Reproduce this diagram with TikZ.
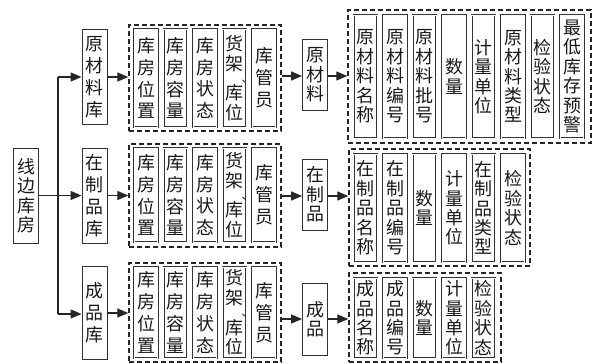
\documentclass[tikz,border=0pt]{standalone}
\usepackage{fontspec}
\newfontfamily\cjk{Noto Sans CJK SC}
\usetikzlibrary{arrows.meta,calc}
\newcommand{\dunhao}{\makebox[0pt][l]{\hspace{7bp}\fontsize{11}{11}\selectfont 、}}
\begin{document}
\begin{tikzpicture}[x=1bp,y=-1bp,
  every node/.style={inner sep=0pt, align=center, text=black!90, font=\cjk\fontsize{18}{19.5}\selectfont},
  sbox/.style={draw=black!80, line width=0.9pt, minimum width=25bp},
  dbox/.style={draw=black!80, double=white, double distance=0.9pt, line width=0.7pt, minimum width=23.5bp},
  wide/.style={font=\cjk\fontsize{18}{22}\selectfont},
  tight/.style={font=\cjk\fontsize{18}{20}\selectfont},
  dashbox/.style={draw=black!85, line width=1.4pt, dash pattern=on 5bp off 3bp},
  arr/.style={draw=black!85, line width=1.2pt, -{Triangle[length=11bp,width=9bp]}},
  ln/.style={draw=black!85, line width=1.2pt}]
\useasboundingbox (0,0) rectangle (595,363);
\fill[white] (0,0) rectangle (595,363);

% left column
\node[sbox, minimum height=95bp] (xb) at (26,195.5) {线\\边\\库\\房};
\node[sbox, minimum height=95bp, wide] (k1) at (94.5,77) {原\\材\\料\\库};
\node[sbox, minimum height=95bp, wide] (k2) at (94.5,195.5) {在\\制\\品\\库};
\node[sbox, minimum height=93bp, wide] (k3) at (94.5,313) {成\\品\\库};

% group 1 dashed
\node[dashbox, minimum width=152bp, minimum height=106bp] (g1) at (205,78) {};
\node[dashbox, minimum width=152bp, minimum height=103bp] (g2) at (205,195.5) {};
\node[dashbox, minimum width=152bp, minimum height=99bp] (g3) at (205,312.5) {};

% group 1 inner boxes
\foreach \r/\yc/\hh in {1/78/98, 2/195/94, 3/312.5/91} {
  \node[dbox, wide, minimum height=\hh bp] (a\r1) at (146,\yc) {库\\房\\位\\置};
  \node[dbox, wide, minimum height=\hh bp] (a\r2) at (175.5,\yc) {库\\房\\容\\量};
  \node[dbox, wide, minimum height=\hh bp] (a\r3) at (205,\yc) {库\\房\\状\\态};
  \node[dbox, tight, minimum height=\hh bp] (a\r4) at (234.5,\yc) {货\\架\\[-8bp]\dunhao\\[-2.5bp]库\\位};
  \node[dbox, wide, minimum height=\hh bp] (a\r5) at (264,\yc) {库\\管\\员};
}

% middle boxes
\node[sbox, minimum height=71bp] (m1) at (315,75) {原\\材\\料};
\node[sbox, minimum height=71bp] (m2) at (315,194.5) {在\\制\\品};
\node[sbox, minimum height=72bp] (m3) at (315,319) {成\\品};

% group 2 dashed
\node[dashbox, minimum width=243bp, minimum height=133bp] (h1) at (469.5,76.5) {};
\node[dashbox, minimum width=181bp, minimum height=117bp] (h2) at (439.5,207.5) {};
\node[dashbox, minimum width=152bp, minimum height=89bp] (h3) at (425,317.5) {};

% group 2 row 1
\node[dbox, minimum height=123bp] (b11) at (365.5,76.5) {原\\材\\料\\名\\称};
\node[dbox, minimum height=123bp] (b12) at (395,76.5) {原\\材\\料\\编\\号};
\node[dbox, minimum height=123bp] (b13) at (424.5,76.5) {原\\材\\料\\批\\号};
\node[dbox, minimum height=123bp] (b14) at (454,76.5) {数\\量};
\node[dbox, minimum height=123bp] (b15) at (483.5,76.5) {计\\量\\单\\位};
\node[dbox, minimum height=123bp] (b16) at (513,76.5) {原\\材\\料\\类\\型};
\node[dbox, minimum height=123bp] (b17) at (542.5,76.5) {检\\验\\状\\态};
\node[dbox, minimum height=123bp] (b18) at (572,76.5) {最\\低\\库\\存\\预\\警};

% group 2 row 2
\node[dbox, minimum height=108bp] (b21) at (365.5,208) {在\\制\\品\\名\\称};
\node[dbox, minimum height=108bp] (b22) at (395,208) {在\\制\\品\\编\\号};
\node[dbox, minimum height=108bp] (b23) at (424.5,208) {数\\量};
\node[dbox, minimum height=108bp] (b24) at (454,208) {计\\量\\单\\位};
\node[dbox, minimum height=108bp] (b25) at (483.5,208) {在\\制\\品\\类\\型};
\node[dbox, minimum height=108bp] (b26) at (513,208) {检\\验\\状\\态};

% group 2 row 3
\node[dbox, minimum height=80bp] (b31) at (365.5,318) {成\\品\\名\\称};
\node[dbox, minimum height=80bp] (b32) at (395,318) {成\\品\\编\\号};
\node[dbox, minimum height=80bp] (b33) at (424.5,318) {数\\量};
\node[dbox, minimum height=80bp] (b34) at (454,318) {计\\量\\单\\位};
\node[dbox, minimum height=80bp] (b35) at (483.5,318) {检\\验\\状\\态};

% connectors
\coordinate (t1) at (58,77);
\coordinate (t3) at (58,314);
\coordinate (y1) at (0,77);
\coordinate (y2) at (0,195.5);
\coordinate (y3) at (0,313);
\coordinate (z1) at (0,76);
\coordinate (z2) at (0,196);
\coordinate (z3) at (0,319);
\draw[ln] (t1) -- (t3);
\draw[arr] (t1) -- (k1.west |- t1);
\draw[arr] (xb.east) -- (k2.west);
\draw[arr] (t3) -- (k3.west |- t3);
\draw[arr] (k1.east |- y1) -- (g1.west |- y1);
\draw[arr] (k2.east |- y2) -- (g2.west |- y2);
\draw[arr] (k3.east |- y3) -- (g3.west |- y3);
\draw[arr] (g1.east |- z1) -- (m1.west |- z1);
\draw[arr] (g2.east |- z2) -- (m2.west |- z2);
\draw[arr] (g3.east |- z3) -- (m3.west |- z3);
\draw[arr] (m1.east |- z1) -- (h1.west |- z1);
\draw[arr] (m2.east |- z2) -- (h2.west |- z2);
\draw[arr] (m3.east |- z3) -- (h3.west |- z3);
\end{tikzpicture}
\end{document}
